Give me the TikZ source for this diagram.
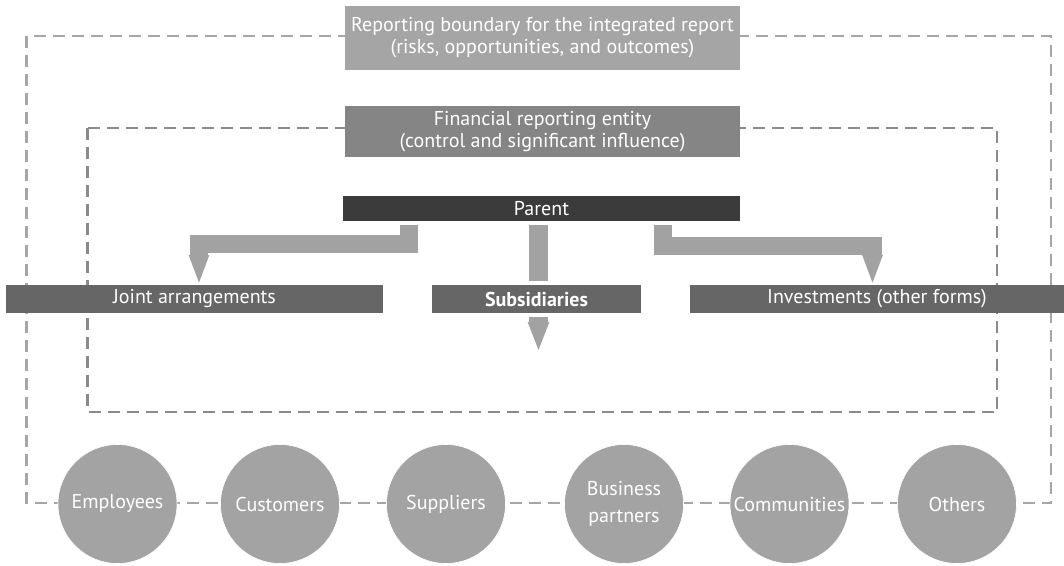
\documentclass[tikz,border=0pt]{standalone}
\usepackage{fontspec}
\setmainfont{PT Sans}
\usetikzlibrary{arrows.meta,backgrounds}
\definecolor{cTop}{HTML}{A5A5A5}
\definecolor{cFin}{HTML}{858585}
\definecolor{cPar}{HTML}{3B3B3B}
\definecolor{cSub}{HTML}{666666}
\definecolor{cArr}{HTML}{A2A2A2}
\definecolor{cCirc}{HTML}{A3A3A3}
\definecolor{cDashA}{HTML}{A6A6A6}
\definecolor{cDashB}{HTML}{8A8A8A}
\begin{document}
\begin{tikzpicture}[x=1pt,y=-1pt,
  box/.style={rectangle, inner sep=0pt, outer sep=0pt, text=white, align=center,
    font=\fontsize{20}{22}\selectfont},
  subbox/.style={box, fill=cSub, minimum height=28pt},
  circ/.style={circle, fill=cCirc, draw=white, line width=0.6pt, inner sep=0pt,
    minimum size=119pt, text=white, align=center, font=\fontsize{20}{27}\selectfont},
  conn/.style={draw=cArr, line width=18pt, line join=miter, shorten <=4pt,
    -{Triangle[width=18pt,length=30pt]}},
  outerdash/.style={draw=cDashA, line width=2.8pt, dash pattern=on 12pt off 7pt},
  innerdash/.style={draw=cDashB, line width=2.8pt, dash pattern=on 12pt off 7pt}
]
\useasboundingbox (0,0) rectangle (1064,565);

\node[box, fill=cTop, minimum width=395pt, minimum height=64pt] (rb) at (542.5,38)
  {Reporting boundary for the integrated report\\(risks, opportunities, and outcomes)};
\node[box, fill=cFin, minimum width=395pt, minimum height=51pt] (fin) at (542.5,131.5)
  {Financial reporting entity\\(control and significant influence)};
\node[box, fill=cPar, minimum width=397pt, minimum height=25pt] (parent) at (541.5,208.5)
  {Parent};
\node[subbox, minimum width=377pt] (joint) at (194.5,299) {Joint arrangements};
\node[subbox, minimum width=213pt, minimum height=32pt, draw=white, line width=4pt,
  font=\fontsize{20}{22}\selectfont\bfseries] (subs) at (536.5,299) {Subsidiaries};
\node[subbox, minimum width=374pt] (invest) at (877,299) {Investments (other forms)};

\node[circ] (emp) at (117.5,504) {Employees};
\node[circ] (cus) at (280,504) {Customers};
\node[circ] (sup) at (446,504) {Suppliers};
\node[circ] (bus) at (624,504) {Business\\partners};
\node[circ] (com) at (789.5,504) {Communities};
\node[circ] (oth) at (957,504) {Others};

\begin{pgfonlayer}{background}
  \fill[white] (0,0) rectangle (1064,565);
  \draw[outerdash] (26.5,36) rectangle (1051,503);
  \draw[innerdash] (87.5,128) rectangle (997,412);
  \draw[conn] ([xshift=-133pt]parent.south) -- ++(0,23) -| ([xshift=4.5pt]joint.north);
  \draw[conn] ([xshift=121.5pt]parent.south) -- ++(0,25) -| ([xshift=-4.5pt]invest.north);
  \draw[conn, line width=19pt, -{Triangle[width=19pt,length=30pt]}]
    ([xshift=-3pt]parent.south) -- ([xshift=2pt,yshift=-37pt]subs.south);
\end{pgfonlayer}
\end{tikzpicture}
\end{document}
